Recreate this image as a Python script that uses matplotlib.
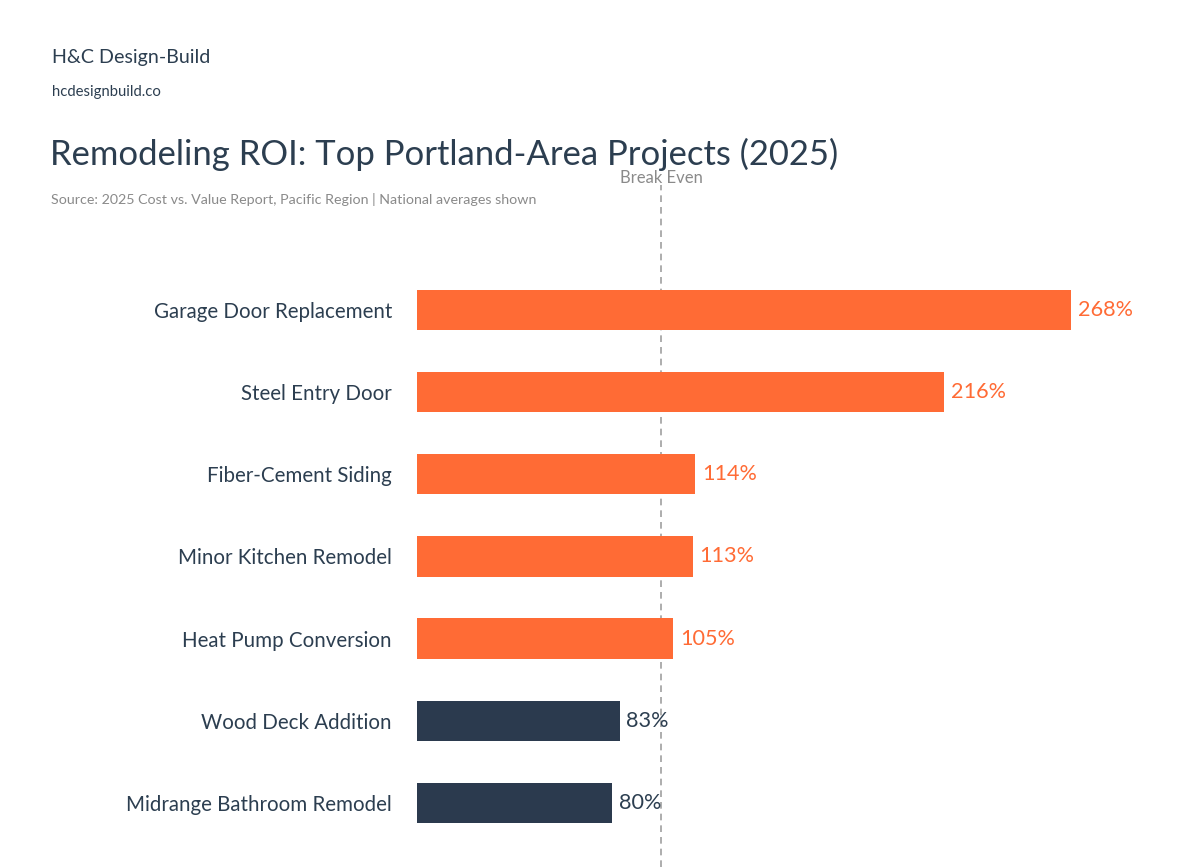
import matplotlib
matplotlib.use("Agg")
import matplotlib.pyplot as plt

categories = ["Garage Door Replacement", "Steel Entry Door", "Fiber-Cement Siding",
              "Minor Kitchen Remodel", "Heat Pump Conversion", "Wood Deck Addition",
              "Midrange Bathroom Remodel"]
roi = [268, 216, 114, 113, 105, 83, 80]
break_even = 100

ORANGE = "#FF6B35"
NAVY = "#2B3A4E"
TEXT = "#2C3E50"
GRAY = "#8A8A8A"

plt.rcParams['font.family'] = ['Lato', 'DejaVu Sans']

fig = plt.figure(figsize=(12, 8.67), dpi=100)
ax = fig.add_axes([417/1200, 0.0, 720/1200, 1 - 185/867])

y = list(range(len(categories)))
colors = [ORANGE if v >= break_even else NAVY for v in roi]
ax.barh(y, roi, height=0.49, color=colors)
ax.set_ylim(6.78, -1.52)
ax.set_xlim(0, 720/2.44)

ax.axvline(break_even, color="#A0A0A0", linestyle=(0, (4, 3)), linewidth=1.2, zorder=0)
ax.annotate("Break Even", xy=(break_even, 1.0), xycoords=('data', 'axes fraction'),
            xytext=(0, 5), textcoords='offset points', ha='center', va='center',
            fontsize=12, color=GRAY)

for i, (v, c) in enumerate(zip(roi, colors)):
    ax.annotate(f"{v}%", xy=(v, i), xytext=(5, 0), textcoords='offset points',
                ha='left', va='center', fontsize=15.6,
                color=ORANGE if c == ORANGE else TEXT)

ax.set_yticks(y)
ax.set_yticklabels(categories, fontsize=14.8, color=TEXT)
ax.tick_params(axis='y', length=0, pad=18)
ax.set_xticks([])
for s in ax.spines.values():
    s.set_visible(False)

fig.text(52/1200, 1 - 58/867, "H&C Design-Build", fontsize=14.1, color=TEXT, va='center', ha='left')
fig.text(52/1200, 1 - 92/867, "hcdesignbuild.co", fontsize=10.7, color=TEXT, va='center', ha='left')
fig.text(50/1200, 1 - 154/867, "Remodeling ROI: Top Portland-Area Projects (2025)", fontsize=24.9,
         color=TEXT, va='center', ha='left')
fig.text(51/1200, 1 - 200/867, "Source: 2025 Cost vs. Value Report, Pacific Region | National averages shown",
         fontsize=10.3, color=GRAY, va='center', ha='left')

fig.savefig("out.png", dpi=100, facecolor="white")
